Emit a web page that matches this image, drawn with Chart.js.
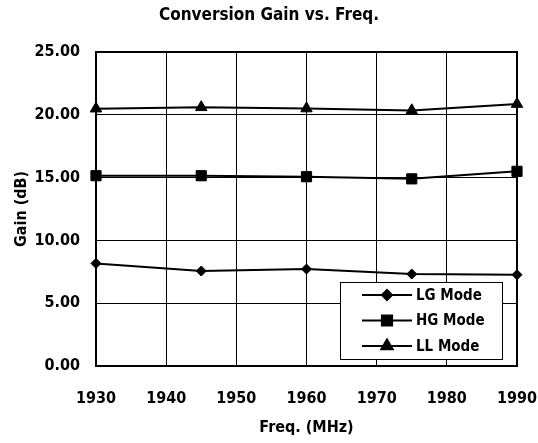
<!DOCTYPE html>
<html>
<head>
<meta charset="utf-8">
<script src="https://cdn.jsdelivr.net/npm/chart.js@4"></script>
<style>
  body { margin: 0; background: #fff; }
  #wrap { width: 538px; height: 443px; }
</style>
</head>
<body>
<div id="wrap"><canvas id="gainChart" width="538" height="443"></canvas></div>
<script>
const freqs = [1930, 1945, 1960, 1975, 1990];
const lgMode = [8.17, 7.56, 7.72, 7.32, 7.27];
const hgMode = [15.15, 15.15, 15.07, 14.9, 15.5];
const llMode = [20.49, 20.6, 20.5, 20.35, 20.86];
const seriesNames = ['LG Mode', 'HG Mode', 'LL Mode'];

const FONT = "'Liberation Sans Narrow', 'DejaVu Sans Condensed', sans-serif";

function toPoints(vals) {
    return freqs.map((f, i) => ({ x: f, y: vals[i] }));
}

// frame round the plot area + boxed legend inside it
const framePlugin = {
    id: 'frame',
    afterDraw(chart) {
        const { ctx, chartArea: a } = chart;
        ctx.save();
        ctx.strokeStyle = '#000';
        ctx.lineWidth = 2;
        ctx.strokeRect(a.left, a.top, a.right - a.left, a.bottom - a.top);

        // legend box
        const bx = a.right - 177, by = a.bottom - 84, bw = 162, bh = 77;
        ctx.fillStyle = '#fff';
        ctx.fillRect(bx, by, bw, bh);
        ctx.lineWidth = 1;
        ctx.strokeRect(bx + 0.5, by + 0.5, bw, bh);

        ctx.font = 'bold 15px ' + FONT;
        ctx.textBaseline = 'middle';
        chart.data.datasets.forEach((ds, i) => {
            const y = by + 13 + i * 25.5;
            ctx.strokeStyle = '#000';
            ctx.lineWidth = 2;
            ctx.beginPath();
            ctx.moveTo(bx + 22, y);
            ctx.lineTo(bx + 72, y);
            ctx.stroke();
            Chart.helpers.drawPoint(ctx, {
                pointStyle: ds.pointStyle,
                radius: ds.pointRadius,
                rotation: 0,
                borderWidth: 1
            }, bx + 47, y);
            ctx.fillStyle = '#000';
            ctx.fill();
            ctx.fillText(ds.label, bx + 76, y + 1);
        });
        ctx.restore();
    }
};

const mk = (label, vals, style, r) => ({
    label: label,
    data: toPoints(vals),
    borderColor: '#000',
    backgroundColor: '#000',
    borderWidth: 2,
    pointStyle: style,
    pointRadius: r,
    pointBorderWidth: 1,
    pointBackgroundColor: '#000',
    pointBorderColor: '#000',
    tension: 0
});

new Chart(document.getElementById('gainChart'), {
    type: 'line',
    data: {
        datasets: [
            mk(seriesNames[0], lgMode, 'rectRot', 5),
            mk(seriesNames[1], hgMode, 'rect', 7.2),
            mk(seriesNames[2], llMode, 'triangle', 6.6)
        ]
    },
    options: {
        responsive: false,
        animation: false,
        clip: false,
        layout: { padding: 0 },
        plugins: {
            legend: { display: false },
            tooltip: { enabled: false },
            title: {
                display: true,
                text: 'Conversion Gain vs. Freq.',
                color: '#000',
                font: { family: FONT, size: 17, weight: 'bold' },
                padding: { top: 5, bottom: 26.6 }
            }
        },
        scales: {
            x: {
                type: 'linear',
                min: 1930,
                max: 1990,
                ticks: {
                    stepSize: 10, color: '#000', padding: 23, maxRotation: 0,
                    font: { family: FONT, size: 16, weight: 'bold' },
                    callback: v => String(v)
                },
                grid: { color: '#000', lineWidth: 1, drawTicks: false },
                border: { display: false },
                title: { display: true, text: 'Freq. (MHz)', color: '#000', font: { family: FONT, size: 16, weight: 'bold' }, padding: { top: 4, bottom: 6 } },
                afterFit(scale) {
                    scale.height = 77;
                    scale.paddingRight = 21;
                }
            },
            y: {
                min: 0,
                max: 25,
                ticks: {
                    stepSize: 5, color: '#000', padding: 16,
                    font: { family: FONT, size: 16, weight: 'bold' },
                    callback: v => v.toFixed(2)
                },
                grid: { color: '#000', lineWidth: 1, drawTicks: false },
                border: { display: false },
                title: { display: true, text: 'Gain (dB)', color: '#000', font: { family: FONT, size: 16, weight: 'bold' }, padding: { top: 12, bottom: 2 } },
                afterFit(scale) {
                    scale.width = 96;
                }
            }
        }
    },
    plugins: [framePlugin]
});
</script>
</body>
</html>
